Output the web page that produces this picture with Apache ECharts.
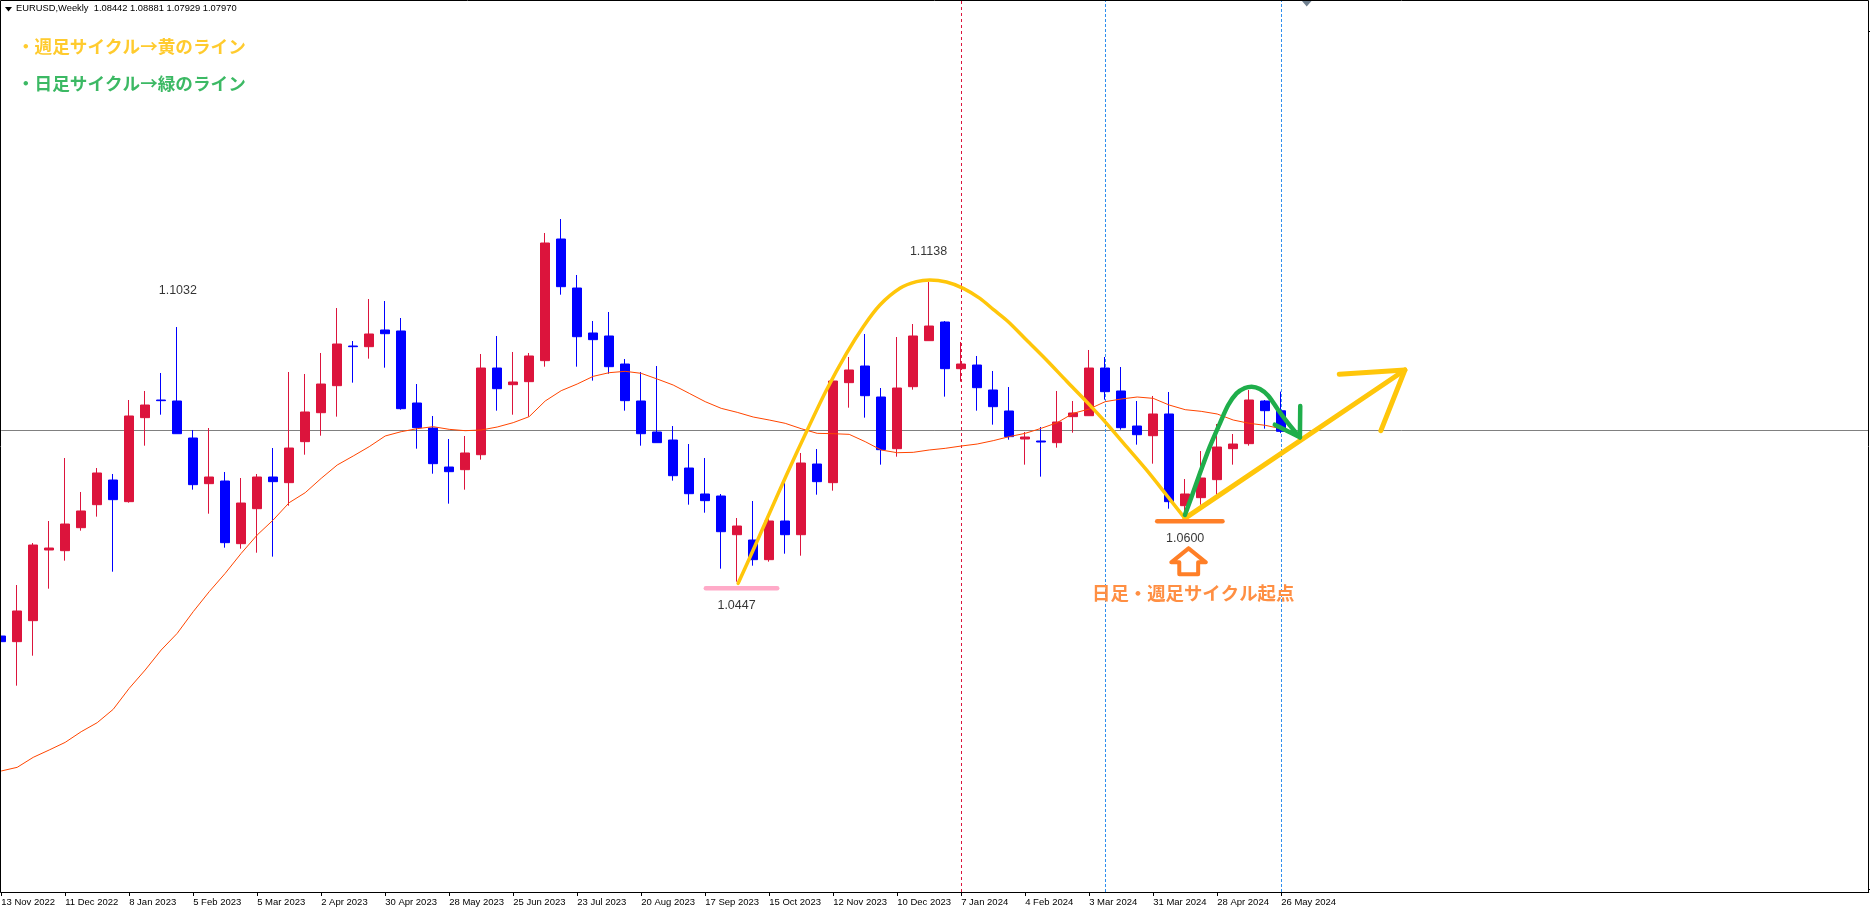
<!DOCTYPE html>
<html>
<head>
<meta charset="utf-8">
<style>html,body{margin:0;padding:0;background:#fff}#c{width:1870px;height:910px}</style>
<script src="https://cdn.jsdelivr.net/npm/echarts@6/dist/echarts.min.js"></script>
</head>
<body>
<div id="c"></div>
<script>
// Weekly tick labels (every 4th bar)
const tickLabels = ['13 Nov 2022','11 Dec 2022','8 Jan 2023','5 Feb 2023','5 Mar 2023','2 Apr 2023','30 Apr 2023','28 May 2023','25 Jun 2023','23 Jul 2023','20 Aug 2023','17 Sep 2023','15 Oct 2023','12 Nov 2023','10 Dec 2023','7 Jan 2024','4 Feb 2024','3 Mar 2024','31 Mar 2024','28 Apr 2024','26 May 2024'];
// open, close, low, high
const ohlc = [
[1.03273,1.03143,1.02615,1.04772],[1.03143,1.03847,1.02133,1.04443],[1.03625,1.05361,1.02821,1.05407],[1.05247,1.05292,1.04359,1.05912],
[1.05231,1.05843,1.05002,1.07358],[1.05759,1.06142,1.05690,1.06578],[1.06287,1.07014,1.06012,1.07128],[1.06853,1.06402,1.04749,1.06991],
[1.06356,1.08322,1.06333,1.08689],[1.08284,1.08574,1.07641,1.08896],[1.08689,1.08674,1.08352,1.09309],[1.08666,1.07916,1.07916,1.10364],
[1.07817,1.06746,1.06631,1.08001],[1.06769,1.06922,1.06080,1.08046],[1.06830,1.05415,1.05300,1.07037],[1.05392,1.06325,1.05277,1.06899],
[1.06195,1.06922,1.05185,1.06991],[1.06922,1.06815,1.05094,1.07587],[1.06792,1.07587,1.06264,1.09332],[1.07733,1.08414,1.07434,1.09286],
[1.08398,1.09056,1.07870,1.09768],[1.09018,1.09974,1.08307,1.10800],[1.09928,1.09913,1.09087,1.10043],[1.09913,1.10204,1.09638,1.11007],
[1.10296,1.10211,1.09431,1.10961],[1.10273,1.08490,1.08467,1.10571],[1.08620,1.08054,1.07572,1.09056],[1.08046,1.07228,1.06998,1.08322],
[1.07151,1.07044,1.06310,1.07794],[1.07090,1.07473,1.06631,1.07863],[1.07434,1.09423,1.07320,1.09745],[1.09423,1.08949,1.08444,1.10158],
[1.09041,1.09102,1.08352,1.09791],[1.09110,1.09699,1.08307,1.09768],[1.09592,1.12292,1.09454,1.12522],[1.12384,1.11290,1.11106,1.12843],
[1.11259,1.10142,1.09454,1.11558],[1.10227,1.10074,1.09133,1.10502],[1.10158,1.09454,1.09293,1.10709],[1.09515,1.08674,1.08444,1.09630],
[1.08666,1.07916,1.07641,1.09332],[1.07955,1.07710,1.07710,1.09469],[1.07771,1.06952,1.06838,1.08092],[1.07128,1.06539,1.06287,1.07679],
[1.06532,1.06379,1.06103,1.07358],[1.06486,1.05667,1.04818,1.06532],[1.05598,1.05797,1.04520,1.05981],[1.05476,1.05025,1.04887,1.06371],
[1.05025,1.05912,1.04979,1.06027],[1.05912,1.05598,1.05162,1.06853],[1.05598,1.07243,1.05116,1.07473],[1.07220,1.06815,1.06516,1.07564],
[1.06792,1.09125,1.06608,1.09125],[1.09087,1.09378,1.08513,1.09676],[1.09469,1.08788,1.08284,1.10204],[1.08758,1.07549,1.07205,1.08964],
[1.07572,1.08964,1.07388,1.10135],[1.08995,1.10158,1.08926,1.10433],[1.10051,1.10387,1.10051,1.11397],[1.10479,1.09408,1.08766,1.10502],
[1.09408,1.09515,1.09110,1.10020],[1.09492,1.08972,1.08444,1.09699],[1.08919,1.08536,1.08123,1.09355],[1.08437,1.07848,1.07779,1.08987],
[1.07794,1.07840,1.07205,1.07955],[1.07748,1.07725,1.06930,1.08069],[1.07710,1.08184,1.07595,1.08896],[1.08307,1.08391,1.07939,1.08666],
[1.08329,1.09423,1.08329,1.09837],[1.09423,1.08880,1.08697,1.09676],[1.08896,1.08054,1.08008,1.09446],[1.08092,1.07893,1.07664,1.08666],
[1.07870,1.08368,1.07228,1.08781],[1.08368,1.06356,1.06195,1.08873],[1.06264,1.06532,1.06088,1.06876],[1.06448,1.06899,1.06287,1.07519],
[1.06861,1.07610,1.06516,1.08138],[1.07572,1.07679,1.07205,1.07909],[1.07687,1.08689,1.07641,1.08919],[1.08666,1.08444,1.08031,1.08689],
[1.08442,1.07970,1.07929,1.08881]
];
const maValues = [1.00175,1.00259,1.00488,1.00657,1.00832,1.01077,1.01284,1.01590,1.02072,1.02493,1.02952,1.03334,1.03831,1.04290,1.04711,1.05170,1.05591,1.05935,1.06333,1.06562,1.06891,1.07197,1.07404,1.07618,1.07863,1.07962,1.08031,1.08077,1.08016,1.07985,1.08001,1.08069,1.08169,1.08307,1.08666,1.08903,1.09056,1.09232,1.09316,1.09347,1.09301,1.09171,1.09033,1.08842,1.08651,1.08498,1.08406,1.08299,1.08230,1.08154,1.08031,1.07924,1.07916,1.07901,1.07733,1.07542,1.07480,1.07488,1.07542,1.07580,1.07633,1.07679,1.07756,1.07848,1.07924,1.08039,1.08169,1.08383,1.08482,1.08651,1.08712,1.08758,1.08727,1.08574,1.08467,1.08429,1.08368,1.08230,1.08154,1.08108,1.08031];
const currentPrice = 1.0797;
const redLineAt = 60;
const blueLinesAt = [69, 80];
// hand-drawn annotations: [bar position, price]
const weeklyCurve = [[46.06,1.04482],[47.0,1.05247],[47.83,1.05935],[49.08,1.06968],[50.33,1.07962],[51.58,1.08919],[52.83,1.09760],[53.88,1.10372],[54.92,1.10869],[56.17,1.11252],[57.21,1.11405],[58.04,1.11443],[59.08,1.11397],[60.13,1.11252],[61.17,1.11022],[62.0,1.10770],[62.94,1.10487],[64.08,1.10066],[65.33,1.09607],[66.58,1.09125],[67.83,1.08651],[69.08,1.08154],[70.33,1.07618],[71.58,1.07083],[72.83,1.06509],[73.98,1.05973]];
const weeklyRise = [[73.98,1.05973],[87.73,1.09378]];
const weeklyHead = [[83.63,1.09278],[87.73,1.09378],[86.23,1.07985]];
const dailyCurve = [[73.98,1.06050],[74.40,1.06471],[74.92,1.07006],[75.54,1.07618],[76.17,1.08154],[76.69,1.08574],[77.21,1.08842],[77.73,1.08964],[78.15,1.08995],[78.67,1.08941],[79.19,1.08788],[79.81,1.08460],[80.44,1.08154],[81.17,1.07832]];
const dailyHead = [[79.60,1.08123],[81.17,1.07832],[81.19,1.08551]];
const pinkBase = [[44.04,1.04367],[48.5,1.04367]];
const orangeBase = [[72.25,1.05904],[76.33,1.05904]];
const upArrow = [[74.21,1.05285],[75.29,1.04963],[74.81,1.04963],[74.81,1.04688],[73.63,1.04688],[73.63,1.04963],[73.13,1.04963],[74.21,1.05285]];
const priceLabels = [{x:11.04,y:1.11191,t:'1.1032'},{x:57.96,y:1.12086,t:'1.1138'},{x:45.96,y:1.03961,t:'1.0447'},{x:74.0,y:1.05499,t:'1.0600'}];
const headerText = 'EURUSD,Weekly  1.08442 1.08881 1.07929 1.07970';
const noteWeekly = '・週足サイクル→黄のライン';
const noteDaily = '・日足サイクル→緑のライン';
const noteStart = '日足・週足サイクル起点';

const YELLOW = '#ffc60a', GREEN = '#1fae4b';
const cjk = '"Noto Sans CJK JP","Noto Sans",sans-serif';
function ln(data, color, width, smooth) {
  return {type:'line', data, symbol:'none', silent:true, smooth:smooth||false, z:6,
    lineStyle:{color, width, cap:'round', join:'round'}};
}
const ticks = tickLabels.map((_, i) => i * 4);
const chart = echarts.init(document.getElementById('c'));
chart.setOption({
  animation:false,
  backgroundColor:'#fff',
  grid:{left:1.2, top:0, width:1867.5, height:892, containLabel:false, outerBoundsMode:'none'},
  xAxis:{type:'value', min:0, max:116.71875, splitLine:{show:false},
    axisLine:{show:true, lineStyle:{color:'#000', width:1}, onZero:false},
    axisTick:{show:true, length:4, lineStyle:{color:'#000'}, customValues:ticks},
    axisLabel:{show:true, customValues:ticks, align:'left', margin:5, color:'#000', fontFamily:'"Liberation Sans",sans-serif', fontSize:9.5,
      hideOverlap:false, showMinLabel:true, showMaxLabel:true,
      formatter:v=>tickLabels[Math.round(v/4)]||''}},
  yAxis:{type:'value', min:0.97398, max:1.17869, show:false, scale:true, splitLine:{show:false}},
  graphic:[
    {type:'rect', shape:{x:0.5,y:0.5,width:1868,height:892}, style:{fill:'none',stroke:'#000',lineWidth:1}, z:20, silent:true},
    {type:'line', shape:{x1:1869,y1:31.5,x2:1870,y2:31.5}, style:{stroke:'#000'}},
    {type:'line', shape:{x1:1869,y1:889.5,x2:1870,y2:889.5}, style:{stroke:'#000'}},
    {type:'polygon', shape:{points:[[5,7],[12,7],[8.5,11.5]]}, style:{fill:'#000'}, z:20},
    {type:'polygon', shape:{points:[[1302,1],[1311.5,1],[1306.7,6.5]]}, style:{fill:'#708090'}, z:20},
    {type:'text', x:16, y:4, z:20, style:{text:headerText, fill:'#000', font:'9.35px "Liberation Sans",sans-serif'}},
    {type:'text', x:17, y:38, z:20, style:{text:noteWeekly, fill:'#ffcb2e', font:'700 17.6px '+cjk}},
    {type:'text', x:17, y:75, z:20, style:{text:noteDaily, fill:'#3cb964', font:'700 17.6px '+cjk}},
    {type:'text', x:1092, y:584, z:20, style:{text:noteStart, fill:'#ff8f43', font:'700 18.4px '+cjk}}
  ],
  series:[
    {type:'candlestick', clip:false, silent:true, barWidth:10, z:3,
      data:ohlc.map((d,i)=>[i,...d]),
      itemStyle:{color:'#dc143c', color0:'#0000ff', borderColor:'#dc143c', borderColor0:'#0000ff', borderWidth:1}},
    {type:'line', data:maValues.map((v,i)=>[i,v]), symbol:'none', silent:true, z:4,
      lineStyle:{color:'#ff4500', width:1},
      markLine:{silent:true, symbol:'none', label:{show:false}, animation:false, z:2,
        data:[
          {yAxis:currentPrice, lineStyle:{color:'#808080', width:1, type:'solid'}},
          {xAxis:redLineAt, lineStyle:{color:'#dc143c', width:1, type:[3,3]}},
          ...blueLinesAt.map(x=>({xAxis:x, lineStyle:{color:'#2f8fee', width:1, type:[3,2]}}))
        ]}},
    ln(weeklyCurve, YELLOW, 3.5, 0.3),
    ln(weeklyRise, YELLOW, 5),
    ln(weeklyHead, YELLOW, 5),
    ln(dailyCurve, GREEN, 4.5, 0.3),
    ln(dailyHead, GREEN, 4.5),
    ln(pinkBase, '#ffaac8', 4.5),
    ln(orangeBase, '#ff7f27', 4.5),
    ln(upArrow, '#ff7f27', 4),
    {type:'scatter', symbolSize:0, silent:true, z:7,
      data:priceLabels.map(p=>({value:[p.x,p.y], label:{show:true, position:'inside', formatter:p.t, color:'#000',
        fontFamily:'"Liberation Sans",sans-serif', fontSize:12.5}}))}
  ]
});
</script>
</body>
</html>
